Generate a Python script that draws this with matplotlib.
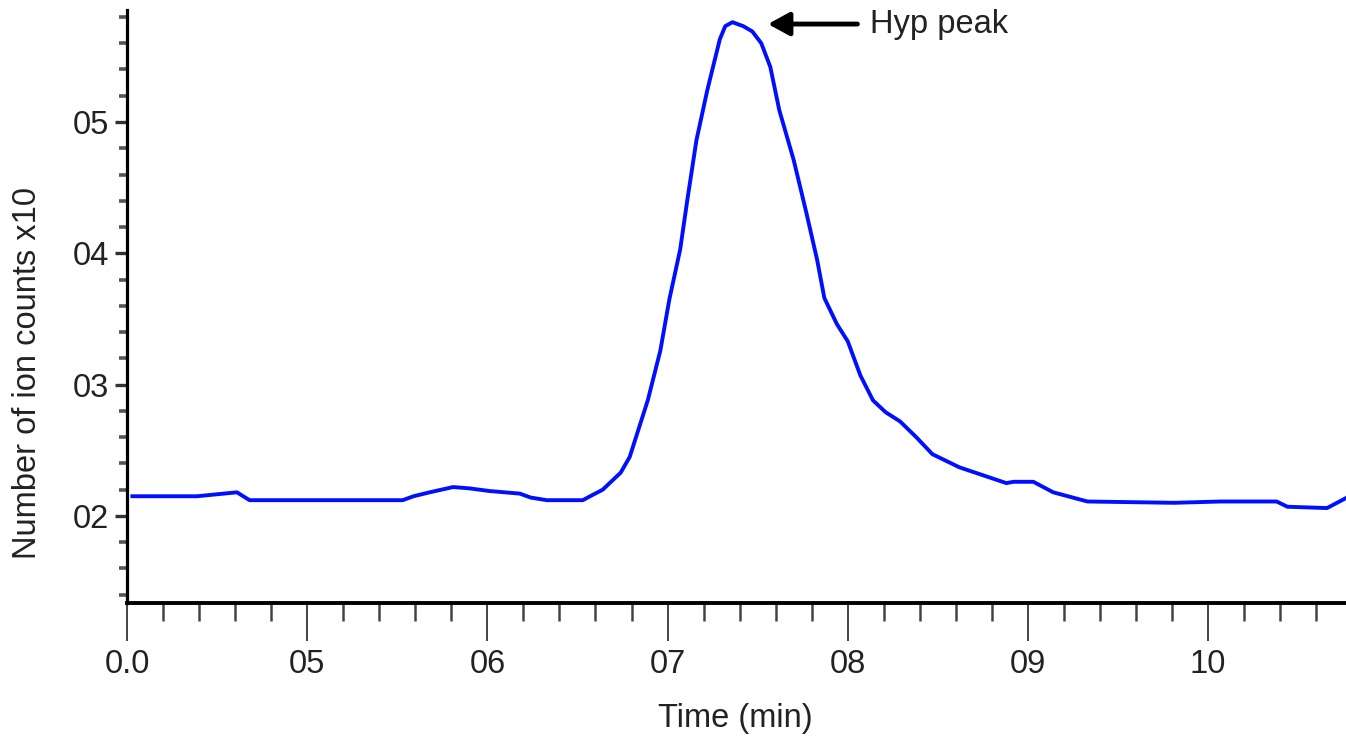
import numpy as np
import matplotlib.pyplot as plt
from matplotlib.ticker import FixedLocator, MultipleLocator

plt.rcParams['font.family'] = ['Liberation Sans', 'DejaVu Sans']

# 読み取ったクロマトグラムの値
time_min = [4.03, 4.39, 4.61, 4.68, 4.96, 5.24, 5.53, 5.59, 5.68, 5.81, 5.90, 6.01,
            6.18, 6.24, 6.33, 6.53, 6.57, 6.64, 6.74, 6.79, 6.89, 6.96, 7.01, 7.07,
            7.11, 7.16, 7.22, 7.29, 7.32, 7.36, 7.42, 7.47, 7.52, 7.57, 7.62, 7.70,
            7.77, 7.83, 7.87, 7.94, 8.00, 8.07, 8.14, 8.21, 8.29, 8.38, 8.47, 8.62,
            8.88, 8.92, 9.03, 9.14, 9.33, 9.81, 10.07, 10.38, 10.44, 10.66, 10.77]
ion_counts = [2.15, 2.15, 2.18, 2.12, 2.12, 2.12, 2.12, 2.15, 2.18, 2.22, 2.21, 2.19,
              2.17, 2.14, 2.12, 2.12, 2.15, 2.20, 2.33, 2.45, 2.88, 3.26, 3.65, 4.03,
              4.41, 4.86, 5.24, 5.63, 5.73, 5.76, 5.73, 5.69, 5.60, 5.42, 5.09, 4.71,
              4.31, 3.95, 3.66, 3.46, 3.33, 3.07, 2.88, 2.79, 2.72, 2.60, 2.47, 2.37,
              2.25, 2.26, 2.26, 2.18, 2.11, 2.10, 2.11, 2.11, 2.07, 2.06, 2.14]

x_ticks = [4, 5, 6, 7, 8, 9, 10]
x_labels = ['0.0', '05', '06', '07', '08', '09', '10']
y_ticks = [2, 3, 4, 5]
y_labels = ['02', '03', '04', '05']

peak_xy = (7.557, 5.746)

fig = plt.figure(figsize=(13.46, 7.36), dpi=100)
ax = fig.add_axes([127/1346, 1-603/736, 1-127/1346, 593/736])

ax.plot(time_min, ion_counts, c='#0010ff', lw=2.8, solid_joinstyle='round')

ax.set_xlim(4, 10.765)
ax.set_ylim(1.337, 5.853)

ax.spines['top'].set_visible(False)
ax.spines['right'].set_visible(False)
ax.spines['left'].set_linewidth(2.3)
ax.spines['bottom'].set_linewidth(2.8)

ax.xaxis.set_major_locator(FixedLocator(x_ticks))
ax.set_xticklabels(x_labels)
ax.xaxis.set_minor_locator(MultipleLocator(0.2))
ax.yaxis.set_major_locator(FixedLocator(y_ticks))
ax.set_yticklabels(y_labels)
ax.yaxis.set_minor_locator(MultipleLocator(0.2))

ax.tick_params(axis='x', which='major', direction='out', length=27, width=1.4,
               color='#444444', labelsize=23.5, labelcolor='#222222', pad=6)
ax.tick_params(axis='x', which='minor', direction='out', length=13, width=1.8,
               color='#444444')
ax.tick_params(axis='y', which='major', direction='out', length=9, width=2.4,
               color='#333333', labelsize=23.5, labelcolor='#222222', pad=4)
ax.tick_params(axis='y', which='minor', direction='out', length=6, width=2.6,
               color='#555555')

ax.set_xlabel('Time (min)', fontsize=23.5, color='#222222')
ax.xaxis.set_label_coords(0.499, -0.168)
ax.set_ylabel('Number of ion counts x10', fontsize=23.5, color='#222222')
ax.yaxis.set_label_coords(-0.069, 0.388)

ax.annotate('Hyp peak', xy=peak_xy, xytext=(8.123, peak_xy[1]), fontsize=23.5,
            color='#222222', ha='left', va='center',
            arrowprops=dict(arrowstyle='-|>,head_length=0.55,head_width=0.3',
                            lw=3.5, color='black', shrinkA=7, shrinkB=0))

plt.savefig('out.png', dpi=100)
